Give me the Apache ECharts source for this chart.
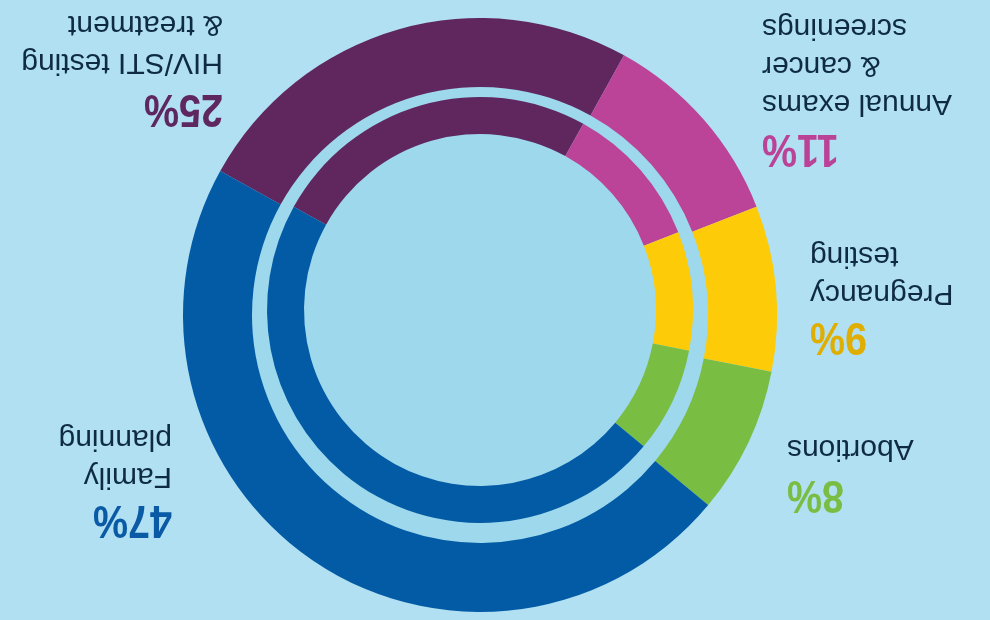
<!DOCTYPE html>
<html>
<head>
<meta charset="utf-8">
<script src="https://cdn.jsdelivr.net/npm/echarts@6/dist/echarts.min.js"></script>
<style>
  html, body { margin: 0; padding: 0; background: #b0e0f2; }
  #chart { width: 990px; height: 620px; }
</style>
</head>
<body>
<div id="chart"></div>
<script>
// ---- data ----
const categories = ['HIV/STI testing\n& treatment', 'Annual exams\n& cancer\nscreenings', 'Pregnancy\ntesting', 'Abortions', 'Family\nplanning'];
const values = [25, 11, 9, 8, 47];

// ---- styles ----
const sliceColors = ['#60275f', '#bb4398', '#fdcb08', '#7abd43', '#035ba5'];
const pctColors = ['#5f2760', '#bb4397', '#dfae00', '#7bbd43', '#0a5aa6'];
const bg = '#b0e0f2';
const hole = '#9dd8ec';
const textColor = '#0f2b44';

// label layout (display coordinates of the upside-down picture)
// side: 'R' -> text block's right edge at x ; 'L' -> left edge at x
const labelLayout = [
  { side: 'R', x: 223, pctY: 108, lblY: 43 },
  { side: 'L', x: 762, pctY: 148, lblY: 65 },
  { side: 'L', x: 810, pctY: 336, lblY: 274 },
  { side: 'L', x: 787, pctY: 494, lblY: 448 },
  { side: 'R', x: 172, pctY: 519, lblY: 457 }
];

const chart = echarts.init(document.getElementById('chart'), null, { renderer: 'canvas' });

const pieData = categories.map((c, i) => ({ name: c, value: values[i], itemStyle: { color: sliceColors[i] } }));

const graphics = [];
labelLayout.forEach((L, i) => {
  // rotated 180°: original alignment is opposite to the displayed edge
  const align = L.side === 'R' ? 'left' : 'right';
  graphics.push({
    type: 'text', x: L.x, y: L.pctY, rotation: Math.PI, scaleX: 0.84, silent: true,
    style: {
      text: values[i] + '%',
      font: "bold 47px 'Liberation Sans', Arial, sans-serif",
      fill: pctColors[i], textAlign: align, align: align,
      textVerticalAlign: 'middle', verticalAlign: 'middle'
    }
  });
  graphics.push({
    type: 'text', x: L.x, y: L.lblY, rotation: Math.PI, silent: true,
    style: {
      text: categories[i],
      font: "30px 'Liberation Sans', Arial, sans-serif",
      lineHeight: 38,
      fill: textColor, textAlign: align, align: align,
      textVerticalAlign: 'middle', verticalAlign: 'middle'
    }
  });
});

const common = {
  type: 'pie', silent: true, clockwise: true, startAngle: 151,
  label: { show: false }, labelLine: { show: false },
  emphasis: { disabled: true }, animation: false,
  itemStyle: { borderWidth: 0 }
};

chart.setOption({
  backgroundColor: bg,
  animation: false,
  series: [
    { type: 'pie', silent: true, center: [480, 312], radius: [0, 233], label: { show: false }, labelLine: { show: false },
      emphasis: { disabled: true }, data: [{ value: 1, itemStyle: { color: hole } }], z: 1 },
    Object.assign({}, common, { center: [480, 315], radius: [228, 297], data: pieData, z: 2 }),
    Object.assign({}, common, { center: [480, 310], radius: [176, 213], data: pieData, z: 3 })
  ],
  graphic: graphics
});
</script>
</body>
</html>
